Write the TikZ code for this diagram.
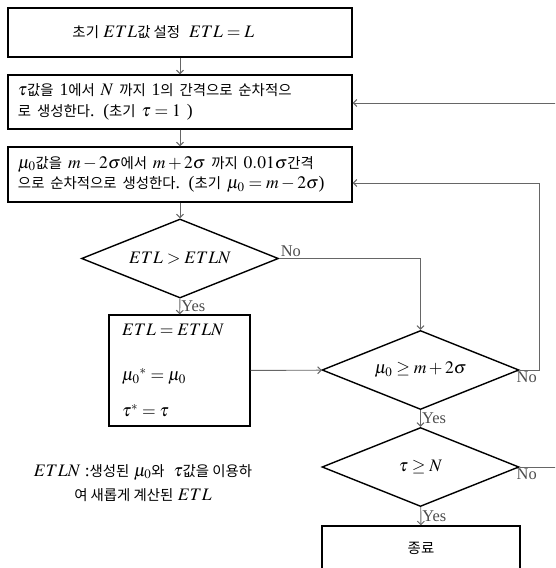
\documentclass[tikz,border=0pt]{standalone}
\usepackage{mathptmx}
\usepackage[no-math]{fontspec}
\setmainfont{Liberation Serif}
\newfontfamily\krfont{Noto Sans CJK KR}[Scale=0.82]
\newcommand{\ko}[1]{{\krfont #1}}
\usepackage{tikz}
\usetikzlibrary{shapes.geometric,arrows.meta}

\begin{document}
\begin{tikzpicture}[x=0.03cm,y=-0.03cm,
    box/.style={draw, line width=1.2pt, inner sep=0pt, font=\fontsize{15}{17.5}\selectfont},
    decision/.style={draw, diamond, shape aspect=2.5, line width=1.2pt, inner sep=0pt,
        minimum width=5.91cm, minimum height=2.37cm, font=\fontsize{15}{18}\selectfont},
    flow/.style={->, draw=black!60, line width=0.8pt},
    lbl/.style={text=black!70, font=\fontsize{14}{16}\selectfont, inner sep=1pt},
    >={Straight Barb[length=3pt,width=6pt]}]
    \useasboundingbox (0,0) rectangle (555,568);
    \clip (0,0) rectangle (555,568);
    % boxes on the left
    \node[box, minimum width=10.32cm, minimum height=1.47cm] (init) at (180,32.5)
        {\ko{초기} $ETL$\ko{값 설정} \ $ETL=L$\hspace*{1cm}};
    \node[box, minimum width=10.32cm, minimum height=1.62cm, text width=9.72cm, align=left] (tau) at (180,102)
        {$\tau$\ko{값을} 1\ko{에서} $N$ \ko{까지} 1\ko{의 간격으로 순차적으}\\\ko{로 생성한다}. (\ko{초기} $\tau=1$ )};
    \node[box, minimum width=10.32cm, minimum height=1.65cm, text width=9.72cm, align=left] (mu) at (180,174.5)
        {$\mu_0$\ko{값을} $m-2\sigma$\ko{에서} $m+2\sigma$ \ko{까지} $0.01\sigma$\ko{간격}\\\ko{으로 순차적으로 생성한다}. (\ko{초기} $\mu_0=m-2\sigma$)};
    \node[decision] (cmp) at (180,258.5) {$ETL>ETLN$};
    \node[box, minimum width=4.23cm, minimum height=3.33cm, text width=3.45cm, align=left] (upd) at (179.5,370.5)
        {$ETL=ETLN$\\[21pt]$\mu_0{}^{*}=\mu_0$\\[13pt]$\tau^{*}=\tau$};
    % decisions on the right
    \node[decision] (mumax) at (420.5,370) {$\mu_0\geq m+2\sigma$};
    \node[decision] (taumax) at (420.5,467) {$\tau\geq N$};
    \node[box, minimum width=5.94cm, minimum height=1.32cm] (stop) at (421,548) {\ko{종료}};
    \node[font=\fontsize{15}{21}\selectfont, align=center] (note) at (143,483)
        {$ETLN$ :\ko{생성된} $\mu_0$\ko{와} \ $\tau$\ko{값을 이용하}\\\ko{여 새롭게 계산된} $ETL$};
    \coordinate (muloop) at (539,183);
    \coordinate (tauloop) at (570,103);
    % connectors
    \draw[flow] (init) -- (tau);
    \draw[flow] (tau) -- (mu);
    \draw[flow] (mu) -- (cmp);
    \draw[flow] (cmp) -- node[lbl, right] {Yes} (upd);
    \draw[flow] (cmp.east) -| node[lbl, pos=0, anchor=south west] {No} (mumax.north);
    \draw[flow] (upd) -- (mumax);
    \draw[flow] (mumax.east) -| node[lbl, pos=0, anchor=north west, xshift=-4pt] {No} (muloop) -- (mu.east |- muloop);
    \draw[flow] (mumax) -- node[lbl, right] {Yes} (taumax);
    \draw[flow] (taumax.east) -| node[lbl, pos=0, anchor=north west, xshift=-4pt] {No} (tauloop) -- (tau.east |- tauloop);
    \draw[flow] (taumax) -- node[lbl, right] {Yes} (stop);
\end{tikzpicture}
\end{document}
